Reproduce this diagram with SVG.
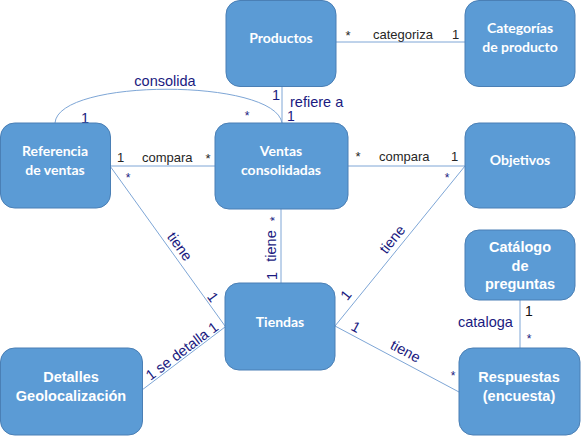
<svg xmlns="http://www.w3.org/2000/svg" width="583" height="439" viewBox="0 0 583 439">
<style>
.n{fill:#5B9BD5;stroke:#4A7FB5;stroke-width:1}
.t1{font-family:Lato,"Liberation Sans",sans-serif;font-weight:bold;font-size:14px;fill:#fff;text-anchor:middle}
.t2{font-family:"Liberation Sans",Arial,sans-serif;font-weight:bold;font-size:14.5px;fill:#fff;text-anchor:middle}
.c{fill:none;stroke:#7EA6D6;stroke-width:1}
.lb{font-family:"Liberation Sans",Arial,sans-serif;font-size:13px;fill:#262626}
.ln{font-family:"Liberation Sans",Arial,sans-serif;font-size:14.5px;fill:#1A1A80}
.as{font-family:"Liberation Sans",Arial,sans-serif;font-size:12px;fill:#1A1A80;text-anchor:middle}
.ab{font-family:"Liberation Sans",Arial,sans-serif;font-size:13px;fill:#262626;text-anchor:middle}
</style>
<g id="connectors">
<line class="c" x1="336" y1="42" x2="465" y2="42"/>
<line class="c" x1="282" y1="86" x2="282" y2="123"/>
<path class="c" d="M55,123 C58,78 275,78 282,123"/>
<line class="c" x1="110" y1="166" x2="215" y2="166"/>
<line class="c" x1="348" y1="166" x2="465" y2="166"/>
<line class="c" x1="110" y1="166" x2="225" y2="326"/>
<line class="c" x1="281" y1="209" x2="281" y2="283"/>
<line class="c" x1="465" y1="166" x2="335" y2="326"/>
<line class="c" x1="335" y1="326" x2="459" y2="392"/>
<line class="c" x1="520" y1="300" x2="520" y2="348"/>
<line class="c" x1="142" y1="390" x2="225" y2="327"/>
<!-- labels -->
<text class="ab" x="348" y="40">*</text>
<text class="lb" x="373" y="39">categoriza</text>
<text class="lb" x="452" y="39">1</text>
<text class="ln" x="272" y="100">1</text>
<text class="ln" x="290" y="107">refiere a</text>
<text class="ln" x="287" y="121" style="font-size:14px">1</text>
<text class="ln" x="165" y="86" text-anchor="middle">consolida</text>
<text class="ln" x="81" y="123">1</text>
<text class="as" x="247" y="120">*</text>
<text class="lb" x="117" y="162">1</text>
<text class="lb" x="142" y="162">compara</text>
<text class="ab" x="208" y="163">*</text>
<text class="as" x="128" y="182">*</text>
<text class="ab" x="358" y="161">*</text>
<text class="lb" x="379" y="161">compara</text>
<text class="lb" x="451" y="161">1</text>
<text class="as" x="447" y="182">*</text>
<text class="ln" transform="translate(179,247) rotate(54)" text-anchor="middle" y="4">tiene</text>
<text class="ln" transform="translate(213,297) rotate(54)" text-anchor="middle" y="5">1</text>
<text class="ln" transform="translate(393,240) rotate(-51)" text-anchor="middle" y="4">tiene</text>
<text class="ln" transform="translate(346,295) rotate(-51)" text-anchor="middle" y="5">1</text>
<text class="ln" transform="translate(272,246) rotate(-90)" text-anchor="middle" y="4">tiene</text>
<text class="ln" transform="translate(272,276) rotate(-90)" text-anchor="middle" y="5">1</text>
<text class="as" transform="translate(272,219) rotate(-90)" y="7">*</text>
<text class="ln" transform="translate(356,327) rotate(28)" text-anchor="middle" y="5">1</text>
<text class="ln" transform="translate(405,352) rotate(28)" text-anchor="middle" y="4">tiene</text>
<text class="as" x="453" y="380">*</text>
<text class="ln" transform="translate(182,351) rotate(-37)" text-anchor="middle" y="5">1 se detalla 1</text>
<text class="lb" x="525" y="316" style="font-size:14px;fill:#111">1</text>
<text class="as" x="529" y="343">*</text>
<text class="ln" x="458" y="327">cataloga</text>
</g>
<g id="productos"><rect class="n" x="226" y="0.5" width="110" height="86" rx="14"/><text class="t1" x="281" y="43">Productos</text></g>
<g id="categorias"><rect class="n" x="465" y="0.5" width="110" height="86" rx="14"/><text class="t1" x="520" y="33">Categorías</text><text class="t1" x="520" y="52">de producto</text></g>
<g id="referencia"><rect class="n" x="0.5" y="123" width="110" height="85" rx="14"/><text class="t1" x="55" y="156">Referencia</text><text class="t1" x="55" y="175">de ventas</text></g>
<g id="ventas"><rect class="n" x="215" y="123" width="133" height="86" rx="14"/><text class="t1" x="281" y="156">Ventas</text><text class="t1" x="281" y="175">consolidadas</text></g>
<g id="objetivos"><rect class="n" x="465" y="123" width="110" height="85" rx="14"/><text class="t1" x="520" y="165">Objetivos</text></g>
<g id="tiendas"><rect class="n" x="225" y="283" width="110" height="87" rx="14"/><text class="t1" x="280" y="327">Tiendas</text></g>
<g id="catalogo"><rect class="n" x="465" y="230" width="110" height="70" rx="14"/><text class="t2" x="520" y="252">Catálogo</text><text class="t2" x="520" y="271">de</text><text class="t2" x="520" y="289">preguntas</text></g>
<g id="respuestas"><rect class="n" x="459" y="348" width="121" height="87" rx="14"/><text class="t2" x="519" y="382">Respuestas</text><text class="t2" x="519" y="401">(encuesta)</text></g>
<g id="detalles"><rect class="n" x="0.5" y="348" width="142" height="87" rx="14"/><text class="t2" x="71" y="382">Detalles</text><text class="t2" x="71" y="401">Geolocalización</text></g>
</svg>
